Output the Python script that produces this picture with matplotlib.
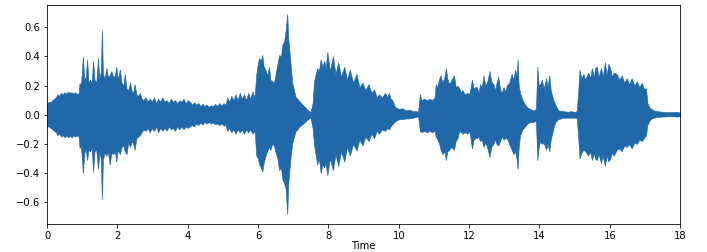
import matplotlib
matplotlib.use("Agg")
import matplotlib.pyplot as plt

# envelope of the waveform (seconds, amplitude)
times = [
    0.00, 0.05, 0.10, 0.15, 0.20, 0.25, 0.30, 0.35, 0.40, 0.45,
    0.50, 0.55, 0.60, 0.65, 0.70, 0.75, 0.80, 0.85, 0.90, 0.92,
    0.97, 1.02, 1.06, 1.10, 1.14, 1.18, 1.22, 1.27, 1.31, 1.35,
    1.40, 1.45, 1.49, 1.53, 1.56, 1.59, 1.64, 1.69, 1.73, 1.78,
    1.83, 1.88, 1.93, 1.97, 2.01, 2.07, 2.12, 2.17, 2.21, 2.26,
    2.31, 2.36, 2.41, 2.45, 2.49, 2.54, 2.59, 2.64, 2.69, 2.74,
    2.80, 2.86, 2.92, 2.98, 3.04, 3.10, 3.16, 3.22, 3.28, 3.34,
    3.40, 3.46, 3.52, 3.58, 3.64, 3.70, 3.76, 3.82, 3.88, 3.94,
    4.00, 4.06, 4.12, 4.18, 4.24, 4.30, 4.36, 4.42, 4.48, 4.54,
    4.60, 4.66, 4.72, 4.78, 4.84, 4.90, 4.96, 5.02, 5.08, 5.12,
    5.18, 5.24, 5.30, 5.36, 5.42, 5.48, 5.54, 5.60, 5.66, 5.72,
    5.78, 5.84, 5.90, 5.95, 6.00, 6.03, 6.08, 6.12, 6.16, 6.21,
    6.26, 6.31, 6.35, 6.40, 6.45, 6.50, 6.55, 6.60, 6.65, 6.69,
    6.74, 6.78, 6.83, 6.86, 6.92, 6.97, 7.02, 7.07, 7.12, 7.18,
    7.26, 7.35, 7.42, 7.49, 7.55, 7.59, 7.64, 7.68, 7.73, 7.78,
    7.83, 7.88, 7.92, 7.97, 8.04, 8.13, 8.20, 8.28, 8.36, 8.45,
    8.53, 8.61, 8.70, 8.80, 8.88, 8.97, 9.05, 9.14, 9.22, 9.30,
    9.37, 9.44, 9.52, 9.61, 9.67, 9.72, 9.77, 9.82, 9.88, 9.92,
    10.01, 10.10, 10.20, 10.30, 10.40, 10.50, 10.55, 10.60, 10.65, 10.72,
    10.80, 10.88, 10.95, 11.02, 11.05, 11.10, 11.15, 11.19, 11.24, 11.30,
    11.34, 11.38, 11.43, 11.50, 11.57, 11.62, 11.67, 11.72, 11.77, 11.81,
    11.88, 11.95, 12.00, 12.04, 12.08, 12.13, 12.18, 12.22, 12.27, 12.31,
    12.36, 12.41, 12.46, 12.52, 12.58, 12.63, 12.69, 12.74, 12.78, 12.83,
    12.88, 12.93, 12.98, 13.03, 13.07, 13.14, 13.21, 13.26, 13.31, 13.35,
    13.38, 13.41, 13.45, 13.52, 13.59, 13.66, 13.73, 13.83, 13.90, 13.94,
    13.98, 14.02, 14.07, 14.12, 14.19, 14.23, 14.28, 14.32, 14.35, 14.40,
    14.45, 14.54, 14.68, 14.80, 14.90, 15.00, 15.06, 15.10, 15.14, 15.19,
    15.25, 15.30, 15.39, 15.44, 15.49, 15.55, 15.58, 15.63, 15.68, 15.75,
    15.80, 15.86, 15.91, 15.96, 16.01, 16.06, 16.11, 16.20, 16.27, 16.34,
    16.41, 16.48, 16.55, 16.62, 16.70, 16.77, 16.84, 16.91, 16.97, 17.03,
    17.07, 17.13, 17.19, 17.25, 17.34, 17.50, 17.70, 17.90, 18.00,
]

upper = [
    0.08, 0.09, 0.085, 0.10, 0.11, 0.12, 0.14, 0.13, 0.15, 0.14,
    0.155, 0.145, 0.16, 0.15, 0.155, 0.145, 0.155, 0.14, 0.15, 0.21,
    0.22, 0.40, 0.24, 0.26, 0.38, 0.22, 0.24, 0.22, 0.37, 0.24,
    0.22, 0.39, 0.24, 0.30, 0.58, 0.28, 0.25, 0.32, 0.26, 0.27,
    0.30, 0.26, 0.27, 0.33, 0.24, 0.31, 0.22, 0.20, 0.28, 0.18,
    0.17, 0.22, 0.16, 0.15, 0.21, 0.14, 0.13, 0.15, 0.11, 0.10,
    0.12, 0.09, 0.11, 0.09, 0.12, 0.08, 0.11, 0.09, 0.12, 0.09,
    0.10, 0.08, 0.11, 0.09, 0.10, 0.08, 0.10, 0.09, 0.11, 0.08,
    0.10, 0.09, 0.07, 0.085, 0.07, 0.08, 0.06, 0.075, 0.06, 0.07,
    0.055, 0.065, 0.06, 0.075, 0.06, 0.08, 0.065, 0.08, 0.07, 0.12,
    0.09, 0.13, 0.10, 0.14, 0.10, 0.15, 0.11, 0.14, 0.10, 0.15,
    0.11, 0.16, 0.12, 0.28, 0.36, 0.39, 0.37, 0.41, 0.33, 0.31,
    0.27, 0.33, 0.24, 0.23, 0.22, 0.28, 0.35, 0.41, 0.40, 0.48,
    0.50, 0.57, 0.69, 0.52, 0.36, 0.22, 0.17, 0.12, 0.11, 0.09,
    0.07, 0.05, 0.03, 0.02, 0.08, 0.23, 0.28, 0.32, 0.30, 0.38,
    0.33, 0.37, 0.32, 0.43, 0.30, 0.40, 0.28, 0.36, 0.26, 0.33,
    0.24, 0.31, 0.22, 0.28, 0.19, 0.22, 0.17, 0.21, 0.15, 0.175,
    0.12, 0.14, 0.12, 0.15, 0.12, 0.15, 0.11, 0.10, 0.06, 0.05,
    0.04, 0.045, 0.03, 0.035, 0.025, 0.025, 0.02, 0.14, 0.10, 0.11,
    0.10, 0.11, 0.10, 0.12, 0.21, 0.19, 0.25, 0.27, 0.22, 0.26,
    0.32, 0.25, 0.21, 0.24, 0.27, 0.19, 0.20, 0.18, 0.15, 0.17,
    0.14, 0.15, 0.14, 0.18, 0.24, 0.18, 0.19, 0.19, 0.15, 0.21,
    0.19, 0.27, 0.20, 0.23, 0.30, 0.23, 0.21, 0.17, 0.22, 0.26,
    0.18, 0.15, 0.19, 0.16, 0.20, 0.22, 0.28, 0.24, 0.31, 0.27,
    0.38, 0.20, 0.15, 0.10, 0.07, 0.05, 0.04, 0.03, 0.04, 0.33,
    0.20, 0.21, 0.24, 0.18, 0.25, 0.19, 0.27, 0.17, 0.14, 0.10,
    0.07, 0.03, 0.025, 0.02, 0.025, 0.02, 0.025, 0.15, 0.31, 0.25,
    0.28, 0.24, 0.29, 0.25, 0.32, 0.26, 0.32, 0.33, 0.26, 0.32,
    0.26, 0.36, 0.27, 0.35, 0.32, 0.26, 0.29, 0.28, 0.24, 0.27,
    0.22, 0.25, 0.21, 0.25, 0.20, 0.23, 0.19, 0.22, 0.18, 0.18,
    0.08, 0.05, 0.04, 0.03, 0.025, 0.02, 0.018, 0.02, 0.015,
]

lower = [
    -0.08, -0.08, -0.09, -0.10, -0.11, -0.12, -0.14, -0.13, -0.15, -0.14,
    -0.155, -0.14, -0.155, -0.145, -0.155, -0.14, -0.15, -0.14, -0.15, -0.22,
    -0.23, -0.40, -0.26, -0.24, -0.31, -0.24, -0.25, -0.23, -0.39, -0.25,
    -0.24, -0.37, -0.26, -0.30, -0.575, -0.30, -0.26, -0.28, -0.25, -0.34,
    -0.26, -0.27, -0.25, -0.32, -0.24, -0.27, -0.22, -0.21, -0.25, -0.27,
    -0.19, -0.22, -0.18, -0.20, -0.24, -0.16, -0.15, -0.14, -0.12, -0.10,
    -0.11, -0.09, -0.12, -0.09, -0.11, -0.08, -0.12, -0.09, -0.11, -0.09,
    -0.11, -0.08, -0.10, -0.09, -0.11, -0.08, -0.10, -0.08, -0.10, -0.08,
    -0.09, -0.08, -0.07, -0.08, -0.06, -0.07, -0.055, -0.065, -0.05, -0.06,
    -0.05, -0.06, -0.055, -0.065, -0.06, -0.07, -0.06, -0.075, -0.07, -0.11,
    -0.09, -0.12, -0.10, -0.13, -0.10, -0.12, -0.10, -0.13, -0.10, -0.12,
    -0.10, -0.13, -0.11, -0.28, -0.30, -0.34, -0.36, -0.39, -0.33, -0.28,
    -0.25, -0.22, -0.24, -0.20, -0.21, -0.26, -0.30, -0.38, -0.36, -0.44,
    -0.47, -0.50, -0.68, -0.47, -0.30, -0.20, -0.15, -0.11, -0.10, -0.08,
    -0.065, -0.045, -0.03, -0.018, -0.09, -0.20, -0.28, -0.34, -0.30, -0.40,
    -0.34, -0.36, -0.33, -0.415, -0.30, -0.38, -0.27, -0.35, -0.25, -0.32,
    -0.22, -0.28, -0.20, -0.245, -0.17, -0.21, -0.15, -0.18, -0.13, -0.16,
    -0.11, -0.13, -0.10, -0.11, -0.09, -0.10, -0.08, -0.065, -0.05, -0.04,
    -0.03, -0.03, -0.025, -0.025, -0.02, -0.015, -0.01, -0.11, -0.12, -0.11,
    -0.12, -0.11, -0.12, -0.11, -0.15, -0.17, -0.20, -0.24, -0.27, -0.25,
    -0.31, -0.25, -0.24, -0.22, -0.24, -0.18, -0.16, -0.11, -0.12, -0.13,
    -0.12, -0.13, -0.11, -0.16, -0.23, -0.17, -0.16, -0.16, -0.15, -0.18,
    -0.17, -0.22, -0.19, -0.23, -0.29, -0.22, -0.20, -0.17, -0.20, -0.21,
    -0.18, -0.15, -0.17, -0.16, -0.16, -0.20, -0.24, -0.27, -0.25, -0.30,
    -0.37, -0.22, -0.14, -0.10, -0.08, -0.06, -0.05, -0.05, -0.04, -0.31,
    -0.22, -0.18, -0.20, -0.19, -0.24, -0.20, -0.25, -0.17, -0.14, -0.09,
    -0.05, -0.03, -0.02, -0.02, -0.02, -0.02, -0.02, -0.15, -0.30, -0.26,
    -0.24, -0.25, -0.28, -0.25, -0.31, -0.26, -0.30, -0.31, -0.27, -0.33,
    -0.28, -0.35, -0.28, -0.32, -0.30, -0.26, -0.28, -0.24, -0.23, -0.25,
    -0.21, -0.22, -0.20, -0.23, -0.19, -0.20, -0.17, -0.18, -0.16, -0.14,
    -0.07, -0.04, -0.025, -0.02, -0.015, -0.012, -0.01, -0.012, -0.01,
]

xticks = [0, 2, 4, 6, 8, 10, 12, 14, 16, 18]
yticks = [-0.6, -0.4, -0.2, 0.0, 0.2, 0.4, 0.6]

fig = plt.figure(figsize=(707 / 72, 252 / 72), dpi=72)
ax = fig.add_axes([0.0665, 0.11, 0.8955, 0.869])

ax.fill_between(times, lower, upper, color="#2068a8", linewidth=0.6, edgecolor="#2068a8")

ax.set_xlim(0, 18)
ax.set_ylim(-0.75, 0.75)
ax.set_xticks(xticks)
ax.set_yticks(yticks)
ax.set_xlabel("Time", labelpad=0)

fig.savefig("out.png", dpi=72)
